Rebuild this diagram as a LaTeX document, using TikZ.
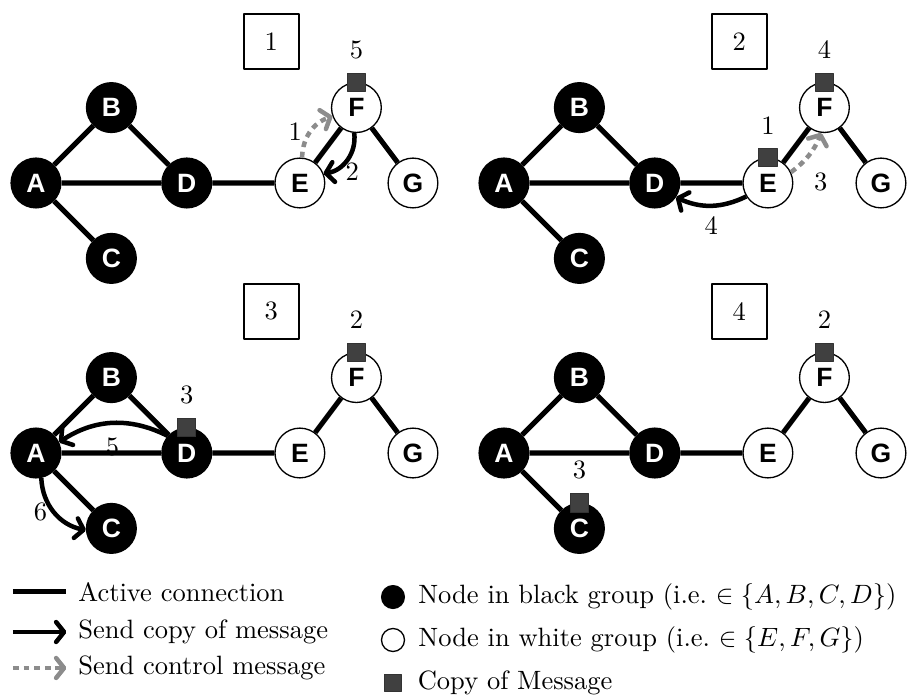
\documentclass[tikz,border=0pt]{standalone}
\usepackage{fontspec}
\usetikzlibrary{arrows.meta,positioning}
\newfontfamily\vertfont{Liberation Sans}
\definecolor{ctrlgray}{gray}{0.55}
\definecolor{msggray}{gray}{0.25}
\tikzset{
	vert/.style={circle,draw=black,line width=0.5pt,minimum size=0.66cm,inner sep=0pt,font=\vertfont\bfseries\fontsize{10}{10}\selectfont},
	blackvert/.style={vert,fill=black,text=white},
	whitevert/.style={vert,fill=white},
	link/.style={line width=1.9pt},
	copymsg/.style={line width=1.7pt,-{Straight Barb[length=3pt,width=7.5pt,round]}},
	ctrlmsg/.style={copymsg,ctrlgray,dash pattern=on 2.2pt off 1.8pt},
	msgbox/.style={rectangle,draw=black!80,fill=msggray,line width=0.3pt,minimum size=0.24cm,inner sep=0pt},
	stepbox/.style={draw,line width=0.9pt,minimum size=0.73cm,inner sep=0pt},
}
\begin{document}
\begin{tikzpicture}[line join=round]
	\useasboundingbox (-0.477,2.427) rectangle (11.552,-6.830);
	% the four steps
	\foreach \p/\sx/\sy in {1/0/0, 2/6.207/0, 3/0/-3.581, 4/6.207/-3.581}{
		\begin{scope}[shift={(\sx,\sy)}]
			\node[blackvert] (a\p) at (0,0) {A};
			\node[blackvert] (b\p) at (1,1) {B};
			\node[blackvert] (c\p) at (1,-1) {C};
			\node[blackvert] (d\p) at (2,0) {D};
			\node[whitevert] (e\p) at (3.5,0) {E};
			\node[whitevert] (f\p) at (4.25,1) {F};
			\node[whitevert] (g\p) at (5,0) {G};
			\node[stepbox] (s\p) at (3.12,1.88) {\p};
			\draw[link] (a\p)--(b\p)--(d\p)--(a\p)--(c\p);
			\draw[link] (d\p)--(e\p)--(f\p)--(g\p);
		\end{scope}
	}
	% step 1
	\node[msgbox] (m1) at (f1.north) {};
	\node[above=1.7pt of m1] (n1) {5};
	\draw[ctrlmsg] (e1.85) to[bend left=35] node[midway,left=-1pt,text=black] {1} (f1.200);
	\draw[copymsg] (f1.265) to[bend left=45] node[pos=0.9,right=2pt] {2} (e1.22);
	% step 2
	\node[msgbox] (m2) at (e2.north) {};
	\node[above=1.7pt of m2] (n2) {1};
	\node[msgbox] (m3) at (f2.north) {};
	\node[above=1.7pt of m3] (n3) {4};
	\draw[ctrlmsg] (e2.25) to[bend right=15] node[pos=0.3,below right=0pt,text=black] {3} (f2.263);
	\draw[copymsg] (e2.212) to[bend left=25] node[midway,below] {4} (d2.326);
	% step 3
	\node[msgbox] (m4) at (d3.north) {};
	\node[above=1.7pt of m4] (n4) {3};
	\node[msgbox] (m5) at (f3.north) {};
	\node[above=1.7pt of m5] (n5) {2};
	\draw[copymsg] (d3.138) to[bend right=30] node[midway,below=1.4pt] {5} (a3.25);
	\draw[copymsg] (a3.282) to[bend right=38] node[midway,left=-1.5pt] {6} (c3.184);
	% step 4
	\node[msgbox] (m6) at (c4.north) {};
	\node[above=1.7pt of m6] (n6) {3};
	\node[msgbox] (m7) at (f4.north) {};
	\node[above=1.7pt of m7] (n7) {2};
	% legend
	\coordinate (l1s) at (-0.305,-5.424);
	\coordinate (l2s) at (-0.305,-5.955);
	\coordinate (l3s) at (-0.305,-6.432);
	\node[anchor=west] (l1) at (0.438,-5.424) {Active connection};
	\node[anchor=west] (l2) at (0.438,-5.955) {Send copy of message};
	\node[anchor=west] (l3) at (0.438,-6.432) {Send control message};
	\draw[link] (l1s) -- ([xshift=-1pt]l1.west);
	\draw[copymsg] (l2s) -- ([xshift=-1pt]l2.west);
	\draw[ctrlmsg] (l3s) -- ([xshift=-1pt]l3.west);
	\node[circle,draw,fill=black,minimum size=0.305cm,inner sep=0pt] (lb) at (4.735,-5.491) {};
	\node[circle,draw,line width=0.5pt,minimum size=0.305cm,inner sep=0pt] (lw) at (4.735,-6.061) {};
	\node[msgbox,minimum size=0.225cm] (lm) at (4.735,-6.631) {};
	\node[right=1.5pt of lb] (tb) {Node in black group (i.e.\ $\in\{A,B,C,D\}$)};
	\node[right=1.5pt of lw] (tw) {Node in white group (i.e.\ $\in\{E,F,G\}$)};
	\node[right=2.5pt of lm] (tm) {Copy of Message};
\end{tikzpicture}
\end{document}
